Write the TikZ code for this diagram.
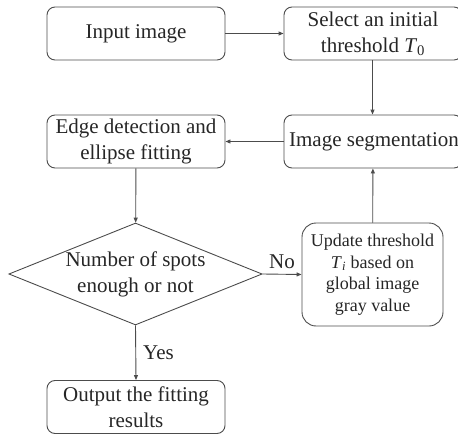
\documentclass[tikz,border=0pt]{standalone}
\usepackage{fontspec}
\setmainfont{Liberation Serif}
\usetikzlibrary{shapes.geometric,arrows.meta}
\begin{document}
\begin{tikzpicture}[x=1pt,y=-1pt,
  every node/.style={inner sep=0pt, align=center, font=\fontsize{21}{26}\selectfont, text=black!85},
  box/.style={draw=black!70, line width=0.9pt, rounded corners=8pt, minimum width=178pt, minimum height=53pt},
  ubox/.style={draw=black!70, line width=0.9pt, rounded corners=14pt, minimum width=141pt, minimum height=103pt, font=\fontsize{18}{21.5}\selectfont},
  dia/.style={draw=black!70, line width=0.9pt, diamond, aspect=2.5, minimum width=253pt, minimum height=102pt},
  conn/.style={draw=black!70, line width=0.9pt, -{Triangle[length=5pt,width=4pt]}},
  lbl/.style={font=\fontsize{21}{26}\selectfont}]
\useasboundingbox (0,0) rectangle (458,436);
\clip (0,0) rectangle (458,436);
\node[box] (inp) at (136,33.5) {Input image};
\node[box] (sel) at (373,33.5) {Select an initial\\threshold \textit{T}\textsubscript{0}};
\node[box] (edge) at (136,141.5) {Edge detection and\\ellipse fitting};
\node[box] (seg) at (373,141.5) {\hspace*{2pt}Image segmentation};
\node[dia] (dec) at (135.5,274) {Number of spots\\enough or not};
\node[ubox] (upd) at (372.5,274.5) {Update threshold\\\textit{T}\textsubscript{\textit{i}} based on\\global image\\gray value};
\node[box] (out) at (136,407) {Output the fitting\\results};
\draw[conn] (inp) -- (sel);
\draw[conn] (sel.south -| 372.5,0) -- (seg.north -| 372.5,0);
\draw[conn] (seg) -- (edge);
\draw[conn] (edge) -- (dec);
\draw[conn] (dec.east) -- (upd.west) node[lbl, pos=0.5, above=5pt] (no) {No};
\draw[conn] (upd) -- (seg);
\draw[conn] (dec.south) -- (out.north) node[lbl, pos=0.5, right=7pt] (yes) {Yes};
\end{tikzpicture}
\end{document}
